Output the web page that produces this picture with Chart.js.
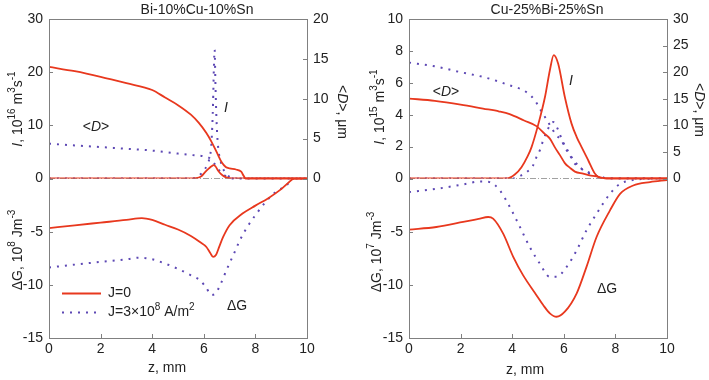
<!DOCTYPE html>
<html>
<head>
<meta charset="utf-8">
<script src="https://cdn.jsdelivr.net/npm/chart.js"></script>
<style>
  body { margin: 0; background: #fff; width: 709px; height: 380px; overflow: hidden; position: relative; }
  .panel { position: absolute; top: 0; height: 380px; }
</style>
</head>
<body>
<div class="panel" style="left:0;width:354px"><canvas id="leftChart" width="354" height="380"></canvas></div>
<div class="panel" style="left:354px;width:355px"><canvas id="rightChart" width="355" height="380"></canvas></div>
<script>
// ---- Bi-10%Cu-10%Sn (left panel) ----
// <D>, um  (J=0 solid, J=3e8 dotted)
const biZ_D0 = [0, 1, 2, 3, 4, 4.5, 5, 5.5, 5.8, 6.1, 6.3, 6.5, 6.7, 6.85, 7.0, 7.25, 7.45, 7.55, 7.62, 10];
const biD0   = [14.0, 13.45, 12.75, 11.95, 11.1, 10.15, 9.2, 8.0, 7.0, 5.7, 4.6, 3.3, 2.0, 1.45, 1.28, 1.13, 0.85, 0.3, 0, 0];
const biZ_DJ = [0, 1, 2, 3, 4, 5, 5.5, 6.0, 6.2, 6.4, 6.6, 6.8, 7.0, 7.2, 10];
const biDJ   = [4.36, 4.15, 3.94, 3.73, 3.5, 3.12, 2.95, 2.78, 2.6, 1.9, 1.0, 0.4, 0.1, 0, 0];
// I, 10^16 m^3 s^-1
const biZ_I0 = [0, 5.4, 5.7, 5.9, 6.05, 6.2, 6.3, 6.38, 6.45, 6.55, 6.65, 6.8, 7.0, 7.2, 10];
const biI0   = [0, 0, 0.05, 0.4, 1.2, 1.9, 2.3, 2.5, 2.3, 1.5, 0.9, 0.35, 0.05, 0, 0];
const biZ_IJ = [0, 5.5, 5.7, 5.9, 6.05, 6.15, 6.23, 6.29, 6.33, 6.36, 6.39, 6.42, 6.45, 6.49, 6.55, 6.66, 6.78, 6.9, 7.05, 7.2, 10];
const biIJ   = [0, 0, 0.2, 0.9, 1.8, 2.8, 4.0, 6.2, 10, 14.4, 20.7, 24.2, 18, 11.3, 6.2, 3.1, 1.5, 0.7, 0.2, 0, 0];
// dG, 10^8 J m^-3
const biZ_G0 = [0, 1, 2, 3, 3.6, 4, 4.5, 5, 5.5, 5.85, 6.1, 6.25, 6.36, 6.47, 6.6, 6.75, 7.0, 7.5, 8, 8.5, 9, 9.3, 9.5, 10];
const biG0   = [-4.66, -4.4, -4.15, -3.9, -3.72, -3.9, -4.35, -4.8, -5.4, -5.97, -6.44, -7.0, -7.37, -7.2, -6.4, -5.5, -4.4, -3.3, -2.55, -1.85, -1.0, -0.35, 0, 0];
const biZ_GJ = [0, 1, 2, 3, 3.5, 4, 4.5, 5, 5.5, 5.85, 6.1, 6.3, 6.45, 6.6, 6.9, 7.2, 7.4, 7.7, 8, 8.4, 8.7, 9.0, 9.2, 9.45, 10];
const biGJ   = [-8.37, -8.1, -7.84, -7.6, -7.44, -7.6, -8.0, -8.5, -9.1, -9.56, -10.3, -10.97, -10.8, -10.2, -8.5, -6.9, -5.8, -4.5, -3.45, -2.2, -1.44, -0.95, -0.66, 0, 0];

// ---- Cu-25%Bi-25%Sn (right panel) ----
const cuZ_D0 = [0, 1, 2, 2.87, 3.5, 3.9, 4.46, 4.94, 5.26, 5.46, 5.65, 5.85, 6.04, 6.24, 6.43, 6.75, 7.0, 7.27, 7.5, 7.66, 10];
const cuD0   = [15.04, 14.6, 13.9, 13.15, 12.6, 12.1, 10.9, 9.85, 8.4, 7.5, 5.9, 4.4, 2.9, 2.0, 1.3, 0.9, 0.6, 0.4, 0.1, 0, 0];
const cuZ_DJ = [0, 1, 2, 2.87, 3.5, 3.91, 4.3, 4.62, 4.88, 5.07, 5.39, 5.72, 5.91, 6.04, 6.24, 6.43, 6.69, 6.95, 7.21, 7.47, 7.7, 10];
const cuDJ   = [21.8, 21.1, 20.0, 19.1, 18.2, 17.5, 16.9, 16.0, 14.7, 13.15, 10.6, 8.1, 7.2, 5.9, 4.34, 2.77, 1.83, 1.2, 0.57, 0.3, 0, 0];
// I, 10^15 m^3 s^-1
const cuZ_I0 = [0, 3.8, 4.1, 4.36, 4.6, 4.75, 5.0, 5.27, 5.46, 5.61, 5.78, 6.04, 6.3, 6.5, 6.69, 6.95, 7.21, 7.47, 10];
const cuI0   = [0, 0, 0.25, 0.71, 1.4, 1.97, 3.33, 5.11, 6.79, 7.74, 7.21, 5.11, 3.44, 2.6, 1.97, 1.13, 0.3, 0.02, 0];
const cuZ_IJ = [0, 4.1, 4.3, 4.56, 4.81, 4.94, 5.07, 5.2, 5.33, 5.46, 5.59, 5.76, 5.94, 6.11, 6.3, 6.5, 6.69, 7.0, 7.4, 7.6, 10];
const cuIJ   = [0, 0, 0.15, 0.4, 0.82, 1.34, 1.76, 2.39, 2.91, 3.33, 3.54, 3.12, 2.39, 1.87, 1.34, 0.92, 0.6, 0.3, 0.1, 0, 0];
// dG, 10^7 J m^-3
const cuZ_G0 = [0, 1.06, 2.1, 2.7, 3.07, 3.26, 3.65, 4.04, 4.42, 4.94, 5.2, 5.46, 5.72, 6.04, 6.5, 6.88, 7.27, 7.79, 8.18, 8.69, 9.34, 10];
const cuG0   = [-4.81, -4.56, -4.09, -3.8, -3.62, -3.78, -5.19, -7.37, -9.09, -10.97, -11.9, -12.68, -13.0, -12.53, -10.8, -8.31, -5.5, -3.0, -1.44, -0.66, -0.34, -0.15];
const cuZ_GJ = [0, 1.06, 2.1, 2.74, 3.13, 3.52, 3.91, 4.3, 4.68, 5.07, 5.46, 5.72, 6.11, 6.5, 6.88, 7.27, 7.79, 8.18, 8.56, 9, 10];
const cuGJ   = [-1.28, -0.97, -0.56, -0.28, -0.34, -1.12, -2.69, -4.56, -6.44, -8.0, -9.25, -9.25, -8.31, -6.75, -4.87, -3.31, -1.44, -0.5, -0.2, -0.05, 0];

const RED = '#e8381e';
const PURPLE = '#5d48b4';
const FRAME = '#808080';
const TEXT = '#222';
const FONT = "'Liberation Sans', Arial, sans-serif";

function pts(zs, vs) {
  return zs.map((z, i) => ({ x: z, y: vs[i] }));
}

// text pieces: [string, flags] where flags has 'i' italic, 's' superscript
function fontFor(flags, size) {
  const f = flags || '';
  return (f.includes('i') ? 'italic ' : '') + (f.includes('s') ? Math.round(size * 0.7) : size) + 'px ' + FONT;
}

function drawRich(ctx, parts, x, y, rot, size) {
  ctx.save();
  ctx.translate(x, y);
  ctx.rotate(rot || 0);
  ctx.fillStyle = TEXT;
  ctx.textBaseline = 'middle';
  ctx.textAlign = 'left';
  let w = 0;
  parts.forEach(p => { ctx.font = fontFor(p[1], size); w += ctx.measureText(p[0]).width; });
  let cx = -w / 2;
  parts.forEach(p => {
    ctx.font = fontFor(p[1], size);
    ctx.fillText(p[0], cx, (p[1] || '').includes('s') ? -size * 0.38 : 0);
    cx += ctx.measureText(p[0]).width;
  });
  ctx.restore();
}

function decorPlugin(p) {
  return {
    id: 'decor',
    afterDraw(chart) {
      const { ctx, chartArea: a, scales } = chart;
      ctx.save();
      // frame
      ctx.strokeStyle = FRAME;
      ctx.lineWidth = 1;
      ctx.strokeRect(Math.round(a.left) + 0.5, Math.round(a.top) + 0.5,
        Math.round(a.right - a.left), Math.round(a.bottom - a.top));
      // inward tick marks
      ctx.beginPath();
      scales.x.ticks.forEach(t => {
        const px = Math.round(scales.x.getPixelForValue(t.value)) + 0.5;
        ctx.moveTo(px, a.bottom); ctx.lineTo(px, a.bottom - 4);
      });
      ['yI', 'yG'].forEach(id => {
        scales[id].ticks.forEach(t => {
          const py = Math.round(scales[id].getPixelForValue(t.value)) + 0.5;
          ctx.moveTo(a.left, py); ctx.lineTo(a.left + 4, py);
        });
      });
      scales.yD.ticks.forEach(t => {
        if (t.value < 0) return;
        const py = Math.round(scales.yD.getPixelForValue(t.value)) + 0.5;
        ctx.moveTo(a.right, py); ctx.lineTo(a.right - 4, py);
      });
      ctx.stroke();

      // titles and labels
      drawRich(ctx, [[p.title]], p.titlePos[0], p.titlePos[1], 0, 14);
      drawRich(ctx, p.iTitle, p.iTitlePos[0], p.iTitlePos[1], -Math.PI / 2, 14);
      drawRich(ctx, p.gTitle, p.gTitlePos[0], p.gTitlePos[1], -Math.PI / 2, 14);
      drawRich(ctx, [['<'], ['D', 'i'], ['>, \u03bcm']], p.dTitlePos[0], p.dTitlePos[1], Math.PI / 2, 14);
      drawRich(ctx, [['z, mm']], p.xTitlePos[0], p.xTitlePos[1], 0, 14);
      drawRich(ctx, [['<'], ['D', 'i'], ['>']], p.dNote[0], p.dNote[1], 0, 14);
      drawRich(ctx, [['I', 'i']], p.iNote[0], p.iNote[1], 0, 14);
      drawRich(ctx, [['\u0394G']], p.gNote[0], p.gNote[1], 0, 14);

      if (p.legend) {
        const [lx, ly] = p.legend;
        ctx.lineWidth = 1.8;
        ctx.strokeStyle = RED;
        ctx.beginPath(); ctx.moveTo(lx, ly); ctx.lineTo(lx + 39, ly); ctx.stroke();
        ctx.strokeStyle = PURPLE;
        ctx.lineWidth = 2;
        ctx.setLineDash([2, 6]);
        ctx.beginPath(); ctx.moveTo(lx, ly + 19); ctx.lineTo(lx + 39, ly + 19); ctx.stroke();
        ctx.setLineDash([]);
        const leftText = (parts, y) => {
          let w = 0;
          parts.forEach(q => { ctx.font = fontFor(q[1], 14); w += ctx.measureText(q[0]).width; });
          drawRich(ctx, parts, lx + 46 + w / 2, y, 0, 14);
        };
        leftText([['J=0']], ly);
        leftText([['J=3\u00d710'], ['8', 's'], [' A/m'], ['2', 's']], ly + 19);
      }
      ctx.restore();
    }
  };
}

function tickFont() {
  return { family: FONT, size: 14 };
}

function makePanel(canvasId, p) {
  const solid = { borderColor: RED, borderWidth: 1.8 };
  const dotted = { borderColor: PURPLE, borderWidth: 2, borderDash: [2, 6] };
  const datasets = [
    { data: pts([0, 10], [0, 0]), yAxisID: 'yI', borderColor: '#444', borderWidth: 1, borderDash: [6, 2, 1, 2], order: 10 },
    Object.assign({ data: pts(p.zD0, p.D0), yAxisID: 'yD' }, solid),
    Object.assign({ data: pts(p.zI0, p.I0), yAxisID: 'yI' }, solid),
    Object.assign({ data: pts(p.zG0, p.G0), yAxisID: 'yG' }, solid),
    Object.assign({ data: pts(p.zDJ, p.DJ), yAxisID: 'yD', order: 1 }, dotted),
    Object.assign({ data: pts(p.zIJ, p.IJ), yAxisID: 'yI', order: 1 }, dotted),
    Object.assign({ data: pts(p.zGJ, p.GJ), yAxisID: 'yG', order: 1 }, dotted)
  ];

  return new Chart(document.getElementById(canvasId), {
    type: 'line',
    data: { datasets },
    options: {
      responsive: false,
      animation: false,
      layout: { padding: { top: 19, left: 0, right: 0, bottom: 0 } },
      elements: { point: { radius: 0 }, line: { cubicInterpolationMode: 'monotone' } },
      plugins: { legend: { display: false }, tooltip: { enabled: false } },
      scales: {
        x: {
          type: 'linear', min: 0, max: 10,
          grid: { display: false, drawTicks: false }, border: { display: false },
          ticks: { stepSize: 2, font: tickFont(), color: TEXT, padding: 3, maxRotation: 0 },
          afterFit: s => { s.height = 42; }
        },
        // stacked left axes: the one declared later is placed on top
        yG: {
          type: 'linear', position: 'left', stack: 'left', stackWeight: 1,
          min: -15, max: 0,
          grid: { display: false, drawTicks: false }, border: { display: false },
          ticks: { stepSize: 5, autoSkip: false, font: tickFont(), color: TEXT, padding: 6, callback: v => (v === 0 ? '' : v) },
          afterFit: s => { s.width = p.leftW; }
        },
        yI: {
          type: 'linear', position: 'left', stack: 'left', stackWeight: 1,
          min: 0, max: p.iMax,
          grid: { display: false, drawTicks: false }, border: { display: false },
          ticks: { stepSize: p.iStep, autoSkip: false, font: tickFont(), color: TEXT, padding: 6 },
          afterFit: s => { s.width = p.leftW; }
        },
        yD: {
          type: 'linear', position: 'right',
          min: -p.dMax, max: p.dMax,
          grid: { display: false, drawTicks: false }, border: { display: false },
          ticks: { stepSize: 5, autoSkip: false, font: tickFont(), color: TEXT, padding: 6, callback: v => (v < 0 ? '' : v) },
          afterFit: s => { s.width = p.rightW; }
        }
      }
    },
    plugins: [decorPlugin(p)]
  });
}

makePanel('leftChart', {
  zD0: biZ_D0, D0: biD0, zDJ: biZ_DJ, DJ: biDJ,
  zI0: biZ_I0, I0: biI0, zIJ: biZ_IJ, IJ: biIJ,
  zG0: biZ_G0, G0: biG0, zGJ: biZ_GJ, GJ: biGJ,
  iMax: 30, iStep: 10, dMax: 20, leftW: 49, rightW: 47,
  title: 'Bi-10%Cu-10%Sn', titlePos: [197, 10],
  iTitle: [['I', 'i'], [', 10'], ['16', 's'], [' m'], ['3', 's'], ['s'], ['-1', 's']], iTitlePos: [18, 109],
  gTitle: [['\u0394G, 10'], ['8', 's'], [' Jm'], ['-3', 's']], gTitlePos: [18, 250],
  dTitlePos: [342, 112], xTitlePos: [167, 368],
  dNote: [96, 127], iNote: [226, 108], gNote: [237, 306],
  legend: [62, 293.5]
});

makePanel('rightChart', {
  zD0: cuZ_D0, D0: cuD0, zDJ: cuZ_DJ, DJ: cuDJ,
  zI0: cuZ_I0, I0: cuI0, zIJ: cuZ_IJ, IJ: cuIJ,
  zG0: cuZ_G0, G0: cuG0, zGJ: cuZ_GJ, GJ: cuGJ,
  iMax: 10, iStep: 2, dMax: 30, leftW: 55, rightW: 42,
  title: 'Cu-25%Bi-25%Sn', titlePos: [193, 10],
  iTitle: [['I', 'i'], [', 10'], ['15', 's'], [' m'], ['3', 's'], ['s'], ['-1', 's']], iTitlePos: [26, 107],
  gTitle: [['\u0394G, 10'], ['7', 's'], [' Jm'], ['-3', 's']], gTitlePos: [23, 252],
  dTitlePos: [345, 110], xTitlePos: [171, 370],
  dNote: [92, 92], iNote: [217, 81], gNote: [253, 289]
});
</script>
</body>
</html>
